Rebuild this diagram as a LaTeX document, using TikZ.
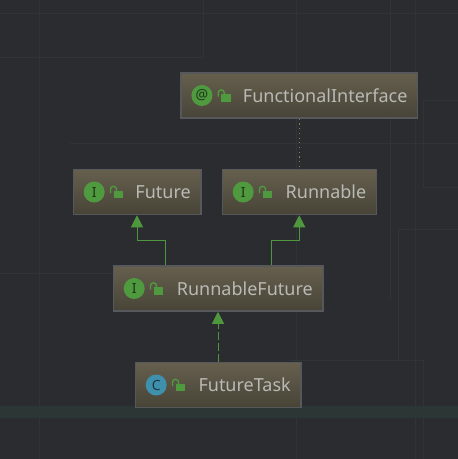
\documentclass[tikz,border=0pt]{standalone}
\usepackage{fontspec}
\setmainfont{Noto Sans}
\usetikzlibrary{arrows.meta,calc,positioning}

\definecolor{bgdark}{HTML}{2B2C2F}
\definecolor{bgline}{HTML}{2F3537}
\definecolor{bgband}{HTML}{2C3735}
\definecolor{boxtop}{HTML}{665F4E}
\definecolor{boxbottom}{HTML}{474437}
\definecolor{boxline}{HTML}{56585B}
\definecolor{labelgray}{HTML}{B9B9B5}
\definecolor{icongreen}{HTML}{4F9A3F}
\definecolor{iconblue}{HTML}{3F90AC}
\definecolor{arrowgreen}{HTML}{4F973F}
\definecolor{dotolive}{HTML}{7F8A4A}

\begin{document}
\begin{tikzpicture}[
    x=1pt, y=-1pt,
    umlbox/.style={draw=boxline, line width=1.5pt, top color=boxtop, bottom color=boxbottom,
                   minimum height=45pt, inner xsep=10pt, inner ysep=0pt, align=right,
                   text=labelgray, font=\fontsize{18}{20}\selectfont},
    icon/.style={circle, fill=icongreen, minimum size=21pt, inner sep=0pt, text=black!65!icongreen,
                 font=\fontsize{14}{14}\selectfont},
    inherit/.style={draw=arrowgreen, line width=1pt, arrows={-Triangle[length=12pt,width=12pt,fill=arrowgreen]}},
    bgrule/.style={draw=bgline, line width=1pt}
]

% 0) backdrop
\useasboundingbox (0,0) rectangle (458,459);
\fill[bgdark] (0,0) rectangle (458,459);
\draw[bgrule] (0,13) -- (458,13);
\draw[bgrule] (0,57) -- (203,57);
\draw[bgrule] (203,0) -- (203,57);
\draw[bgrule] (39,0) -- (39,459);
\draw[bgrule] (296,0) -- (296,459);
\draw[bgrule] (390,0) -- (390,300);
\draw[bgrule] (415,0) -- (415,459);
\draw[bgrule] (70,143) -- (458,143);
\draw[bgrule] (0,273) -- (113,273);
\draw[bgrule] (458,100) -- (423,100) -- (423,187) -- (458,187);
\draw[bgrule] (458,229) -- (398,229) -- (398,360);
\draw[bgrule] (290,360) -- (423,360) -- (423,459);
\fill[bgband] (0,406) rectangle (458,418);

% 1) Future
\node[umlbox, text width=107.5pt] (future) at (137,192) {Future};
\node[icon, right=11pt of future.west, anchor=west] (futureicon) {\textbf{I}};

% 2) Runnable
\node[umlbox, text width=134pt, right=20pt of future] (runnable) {Runnable};
\node[icon, right=11pt of runnable.west, anchor=west] (runnableicon) {\textbf{I}};

% 3) FunctionalInterface
\node[umlbox, text width=216.5pt, above=50pt of runnable] (functional) {FunctionalInterface};
\node[icon, right=11pt of functional.west, anchor=west] (functionalicon) {@};

% 4) RunnableFuture
\node[umlbox, text width=189.5pt] (runfuture) at (218,288.5) {RunnableFuture};
\node[icon, right=11pt of runfuture.west, anchor=west] (runfutureicon) {\textbf{I}};

% 5) FutureTask
\node[umlbox, text width=145.5pt, below=50pt of runfuture] (task) {FutureTask};
\node[icon, fill=iconblue, text=black!60!iconblue, right=11pt of task.west, anchor=west] (taskicon) {\textbf{C}};

% locks
\foreach \n in {future,runnable,functional,runfuture,task} {
    \fill[icongreen] ($(\n.west)+(41,-1.3)$) rectangle +(9.5,7.3);
    \draw[icongreen, line width=1.4pt] ($(\n.west)+(38,1)$) -- ++(0,-3.7) arc[start angle=180, end angle=360, x radius=3, y radius=3] -- ++(0,2);
}

% connectors
\coordinate (leftfoot) at ($(runfuture.north)+(-53,0)$);
\coordinate (rightfoot) at ($(runfuture.north)+(53,0)$);
\coordinate (leftbend) at ($(future.south)+(0,25)$);
\coordinate (rightbend) at ($(runnable.south)+(0,25)$);
\draw[inherit] (leftfoot) |- (leftbend) -- (future.south);
\draw[inherit] (rightfoot) |- (rightbend) -- (runnable.south);
\draw[inherit, dash pattern=on 8pt off 3pt] (task) -- (runfuture);
\draw[draw=dotolive, line width=1pt, dash pattern=on 1.2pt off 3.5pt] (functional) -- (runnable);

\end{tikzpicture}
\end{document}
